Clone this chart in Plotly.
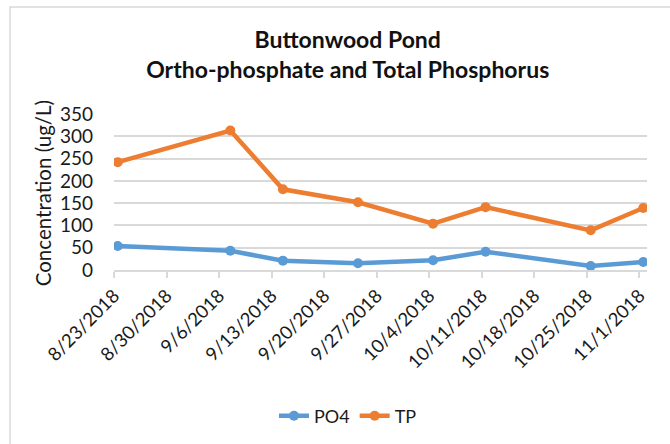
import plotly.graph_objects as go
import pandas as pd

dates = ["2018-08-23", "2018-09-07", "2018-09-14", "2018-09-24",
         "2018-10-04", "2018-10-11", "2018-10-25", "2018-11-01"]
po4 = [54, 43, 21, 15, 22, 41, 9, 18]
tp = [242, 313, 181, 152, 104, 141, 89, 139]

tick_dates = ["2018-08-23", "2018-08-30", "2018-09-06", "2018-09-13", "2018-09-20",
              "2018-09-27", "2018-10-04", "2018-10-11", "2018-10-18", "2018-10-25",
              "2018-11-01"]
tick_labels = ["8/23/2018", "8/30/2018", "9/6/2018", "9/13/2018", "9/20/2018",
               "9/27/2018", "10/4/2018", "10/11/2018", "10/18/2018", "10/25/2018",
               "11/1/2018"]
y_title = "Concentration (ug/L)"

# Excel date axis: each point sits in the middle of its day slot
x = pd.to_datetime(dates) + pd.Timedelta(hours=12)

FONT = "Lato"
BLUE = "#5B9BD5"
ORANGE = "#ED7D31"
GRID = "#D9D9D9"
TXT = "#1a1a1a"

fig = go.Figure()
fig.add_trace(go.Scatter(x=x, y=po4, name="PO4", mode="lines+markers",
                         line=dict(color=BLUE, width=4.5),
                         marker=dict(color=BLUE, size=10)))
fig.add_trace(go.Scatter(x=x, y=tp, name="TP", mode="lines+markers",
                         line=dict(color=ORANGE, width=4.5),
                         marker=dict(color=ORANGE, size=10)))

fig.update_layout(
    width=670, height=444,
    margin=dict(l=114, r=23, t=114, b=172.5),
    paper_bgcolor="white", plot_bgcolor="white",
    font=dict(family=FONT, color=TXT),
    title=dict(text="<b>Buttonwood Pond<br>Ortho-phosphate and Total Phosphorus</b>",
               x=0.519, xref="container", xanchor="center",
               y=1 - 48 / 444, yref="container", yanchor="top",
               font=dict(family=FONT, size=23, color="#111111")),
    xaxis=dict(type="date", range=["2018-08-23", "2018-11-02"],
               tickvals=pd.to_datetime(tick_dates), ticktext=tick_labels,
               tickangle=-45, tickfont=dict(size=18.5, color=TXT),
               showgrid=False, showline=True, linecolor=GRID, linewidth=1.5,
               ticks="outside", ticklen=6, tickcolor=GRID, tickwidth=1.5,
               zeroline=False, fixedrange=True),
    yaxis=dict(range=[0, 350], tickvals=[0, 50, 100, 150, 200, 250, 300, 350],
               tickfont=dict(size=19, color=TXT),
               showgrid=True, gridcolor=GRID, gridwidth=1.5,
               showline=False, zeroline=False, ticks="", ticklabelstandoff=20,
               fixedrange=True),
    annotations=[dict(text=y_title, textangle=-90, xref="paper", yref="paper",
                      x=(43 - 114) / 533, y=(271.5 - 194) / 157.5,
                      xanchor="center", yanchor="middle", showarrow=False,
                      font=dict(size=20.5, color=TXT, family=FONT))],
    legend=dict(orientation="h", x=0.439, xanchor="center", xref="paper",
                y=(271.5 - 417) / 157.5, yanchor="middle",
                font=dict(size=18, color=TXT), bgcolor="rgba(0,0,0,0)"),
    shapes=[dict(type="rect", xref="paper", yref="paper",
                 x0=(10 - 114) / 533, x1=2, y0=-3, y1=(271.5 - 6) / 157.5,
                 line=dict(color="#D9D9D9", width=1.5), fillcolor="rgba(0,0,0,0)",
                 layer="below")],
)

fig.write_html("out.html", config={"displayModeBar": False},
               post_script="document.body.style.margin='0';")
